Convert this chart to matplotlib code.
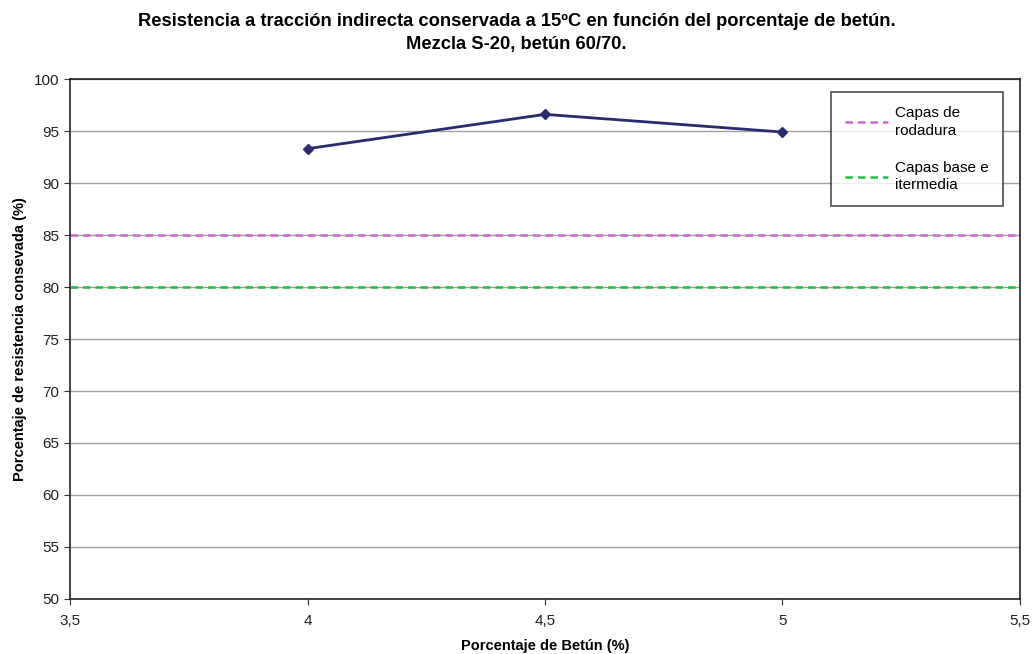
import matplotlib
matplotlib.use("Agg")
import matplotlib.pyplot as plt
from matplotlib.ticker import MultipleLocator, FuncFormatter

plt.rcParams['font.family'] = ['Liberation Sans', 'DejaVu Sans']

betun = [4.0, 4.5, 5.0]
resistencia = [93.3, 96.6, 94.9]
limite_rodadura = 85
limite_base = 80

fig = plt.figure(figsize=(10.33, 6.54), dpi=100)
ax = fig.add_axes([0.0678, 0.0841, 0.9196, 0.7951])

ax.set_xlim(3.5, 5.5)
ax.set_ylim(50, 100)
ax.yaxis.set_major_locator(MultipleLocator(5))
ax.xaxis.set_major_locator(MultipleLocator(0.5))
ax.grid(axis='y', color='#a0a0a0', linewidth=1)
ax.set_axisbelow(True)

ax.axhline(limite_rodadura, color='#cc66cc', linestyle=(0, (3, 2)), linewidth=1.8,
           label='Capas de\nrodadura')
ax.axhline(limite_base, color='#22bb44', linestyle=(0, (3, 2)), linewidth=1.8,
           label='Capas base e\nitermedia')
ax.plot(betun, resistencia, color='#2a2a6e', linewidth=2, marker='D', markersize=5)

fmt = FuncFormatter(lambda v, p: ('%g' % v).replace('.', ','))
ax.xaxis.set_major_formatter(fmt)
ax.tick_params(axis='both', labelsize=11, length=4, color='#333333', labelcolor='#222222')
ax.tick_params(axis='x', pad=7)
for s in ax.spines.values():
    s.set_color('#222222')
    s.set_linewidth(1.2)

ax.set_xlabel('Porcentaje de Betún (%)', fontsize=10.5, fontweight='bold', labelpad=8)
ax.set_ylabel('Porcentaje de resistencia consevada (%)', fontsize=10.5, fontweight='bold', labelpad=5)
fig.suptitle('Resistencia a tracción indirecta conservada a 15ºC en función del porcentaje de betún.\n'
             'Mezcla S-20, betún 60/70.', fontsize=13.2, fontweight='bold', y=0.98, linespacing=1.45)

leg = ax.legend(loc='upper right', bbox_to_anchor=(0.982, 0.975), borderaxespad=0,
                frameon=True, fancybox=False, edgecolor='#222222', fontsize=11,
                handlelength=2.8, labelspacing=1.5, borderpad=0.9, handletextpad=0.5)
leg.get_frame().set_linewidth(1.2)
for t in leg.get_texts():
    t.set_linespacing(1.35)

fig.savefig('out.png', dpi=100)
